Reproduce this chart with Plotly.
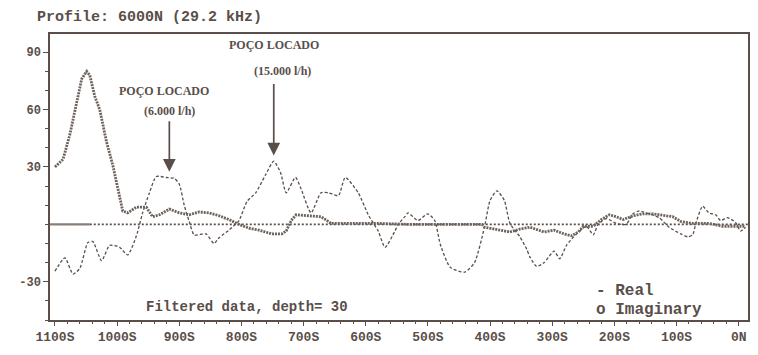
import plotly.graph_objects as go

INK = "#5a4e4a"
INK2 = "#6e625c"

# station (m south of 0N) and values
imag_d = [1100, 1087, 1076, 1068, 1057, 1049, 1044, 1036, 1028, 1017, 1007, 999, 991, 983, 969,
          953, 943, 932, 916, 900, 884, 868, 852, 836, 820, 804, 788, 772, 751, 735,
          728, 720, 712, 692, 672, 660, 656, 612, 580, 532, 500, 413, 409, 368, 352, 336, 313,
          297, 281, 269, 258, 250, 234, 221, 208, 197, 186, 170, 154, 138, 106, 93,
          74, 48, 26, 0, -10]
imag_v = [30, 34, 47, 60, 76, 80, 78, 67, 60, 43, 31, 19, 7, 6, 9,
          9, 4, 5, 8, 6, 5, 6.5, 6, 4.5, 2.5, 0, -2, -3, -5, -5,
          -3.5, 2, 5, 4.5, 4, 1.5, 0.5, 0.5, 0.5, 0, 0, 0, -1.5, -4, -2.5, -1.5, -4,
          -3, -5, -6, -4, -1, -1, 2.5, 5, 4, 2.5, 4.5, 5.5, 5.5, 4, 1.5,
          0.5, 0.5, -1, -1, -1]

real_d = [1100, 1084, 1071, 1060, 1047, 1039, 1025, 1012, 996, 983, 969, 959, 948, 937, 921,
          908, 900, 892, 884, 876, 857, 844, 836, 820, 804, 791, 777, 761, 748, 737,
          728, 713, 704, 688, 672, 660, 644, 633, 612, 596, 580, 569, 553, 548, 537,
          532, 516, 500, 489, 480, 464, 441, 425, 409, 400, 389, 377, 368, 352, 341,
          336, 325, 313, 297, 288, 277, 261, 245, 234, 226, 213, 197, 181, 170, 160,
          154, 128, 112, 93, 82, 74, 69, 58, 48, 37, 29, 18, 5, -3, -11]
real_v = [-24.5, -17.5, -26, -23, -9.5, -9, -19, -11, -12, -16, -6, 6, 16.5, 25, 24.5,
          24, 21, 10, 1.5, -5.5, -5, -10, -7, -3, 2, 12, 16.5, 26, 33, 27,
          16.5, 24.5, 18.5, 6, 16.5, 16.5, 15, 24.5, 16.5, 5, -3.5, -12, -3.5, 0, 4,
          6, 2, 5.5, 2, -10.5, -22.5, -25, -20, -1.5, 12.5, 17.5, 12.5, 0.5, -6.5, -13,
          -17, -22, -20, -14, -18, -11, -5, -1, -5.5, 0, 3, 0.5, 0, 5.5, 7,
          6.5, 3.5, -1.5, -5, -6.5, -5.5, 0.5, 9.5, 6, 5, 2, 3.5, 1, -3.5, -1.5]

zero_solid_d = [1108, 1044]
zero_dot_d = [1044, -15]

tick_vals = [1100, 1000, 900, 800, 700, 600, 500, 400, 300, 200, 100, 0]
tick_text = ["1100S", "1000S", "900S", "800S", "700S", "600S", "500S", "400S",
             "300S", "200S", "100S", "0N"]
y_ticks = [90, 60, 30, -30]

fig = go.Figure()
fig.add_trace(go.Scatter(x=zero_solid_d, y=[0, 0], mode="lines",
                         line=dict(color="#8a7e78", width=2.2), hoverinfo="skip"))
fig.add_trace(go.Scatter(x=zero_dot_d, y=[0, 0], mode="lines",
                         line=dict(color=INK, width=1.6, dash="2px,2px"), hoverinfo="skip"))
fig.add_trace(go.Scatter(x=real_d, y=real_v, mode="lines", name="Real",
                         line=dict(color=INK, width=1.3, dash="3px,2px", shape="spline", smoothing=0.6)))
fig.add_trace(go.Scatter(x=imag_d, y=imag_v, mode="lines", name="Imaginary",
                         line=dict(color=INK2, width=2.8, dash="2px,1px")))

mono = "Liberation Mono"
serif = "Liberation Serif"

fig.update_layout(
    width=758, height=355,
    margin=dict(l=50, r=8, t=34, b=35),
    plot_bgcolor="white", paper_bgcolor="white",
    showlegend=False,
    font=dict(family=mono, color=INK),
    title=dict(text="<b>Profile: 6000N (29.2 kHz)</b>", x=37 / 758, xanchor="left",
               y=1 - 16 / 355, yanchor="middle",
               font=dict(family=mono, size=15, color=INK)),
    xaxis=dict(range=[1108, -15], tickvals=tick_vals, ticktext=tick_text,
               showline=True, mirror=True, linecolor=INK, linewidth=1.5,
               ticks="outside", ticklen=4, tickcolor=INK, showgrid=False, zeroline=False,
               tickfont=dict(family=mono, size=13, weight="bold", color=INK),
               minor=dict(ticks="outside", ticklen=2, dtick=20, tickcolor=INK)),
    yaxis=dict(range=[-50, 99.5], tickvals=y_ticks, ticktext=[str(v) for v in y_ticks],
               showline=True, mirror=True, linecolor=INK, linewidth=1.5,
               ticks="outside", ticklen=5, tickcolor=INK, showgrid=False, zeroline=False,
               tickfont=dict(family=mono, size=12, weight="bold", color=INK),
               minor=dict(ticks="outside", ticklen=3, dtick=10, tick0=0, tickcolor=INK)),
)

ann_font = dict(family=serif, size=12, color=INK)
fig.add_annotation(x=924, y=69.6, text="<b>POÇO LOCADO</b>", showarrow=False, font=ann_font)
fig.add_annotation(x=915, y=59, text="<b>(6.000 l/h)</b>", showarrow=False, font=ann_font)
fig.add_annotation(x=747, y=94, text="<b>POÇO LOCADO</b>", showarrow=False, font=ann_font)
fig.add_annotation(x=734, y=80, text="<b>(15.000 l/h)</b>", showarrow=False, font=ann_font)
# arrows
fig.add_annotation(x=916, y=27.5, ax=0, ay=-52, text="", showarrow=True,
                   arrowhead=2, arrowsize=1.5, arrowwidth=1.7, arrowcolor=INK)
fig.add_annotation(x=748, y=36, ax=0, ay=-73, text="", showarrow=True,
                   arrowhead=2, arrowsize=1.5, arrowwidth=1.7, arrowcolor=INK)

txt_font = dict(family=mono, size=14, color=INK)
leg_font = dict(family=mono, size=16, color=INK)
fig.add_annotation(x=956, y=-43.4, text="<b>Filtered data, depth= 30</b>", showarrow=False,
                   xanchor="left", font=txt_font)
fig.add_annotation(x=232, y=-35, text="<b>- Real</b>", showarrow=False, xanchor="left", font=leg_font)
fig.add_annotation(x=232, y=-45, text="<b>o Imaginary</b>", showarrow=False, xanchor="left", font=leg_font)

fig.write_html("out.html", config={"displayModeBar": False},
               post_script="document.body.style.margin='0px';")
